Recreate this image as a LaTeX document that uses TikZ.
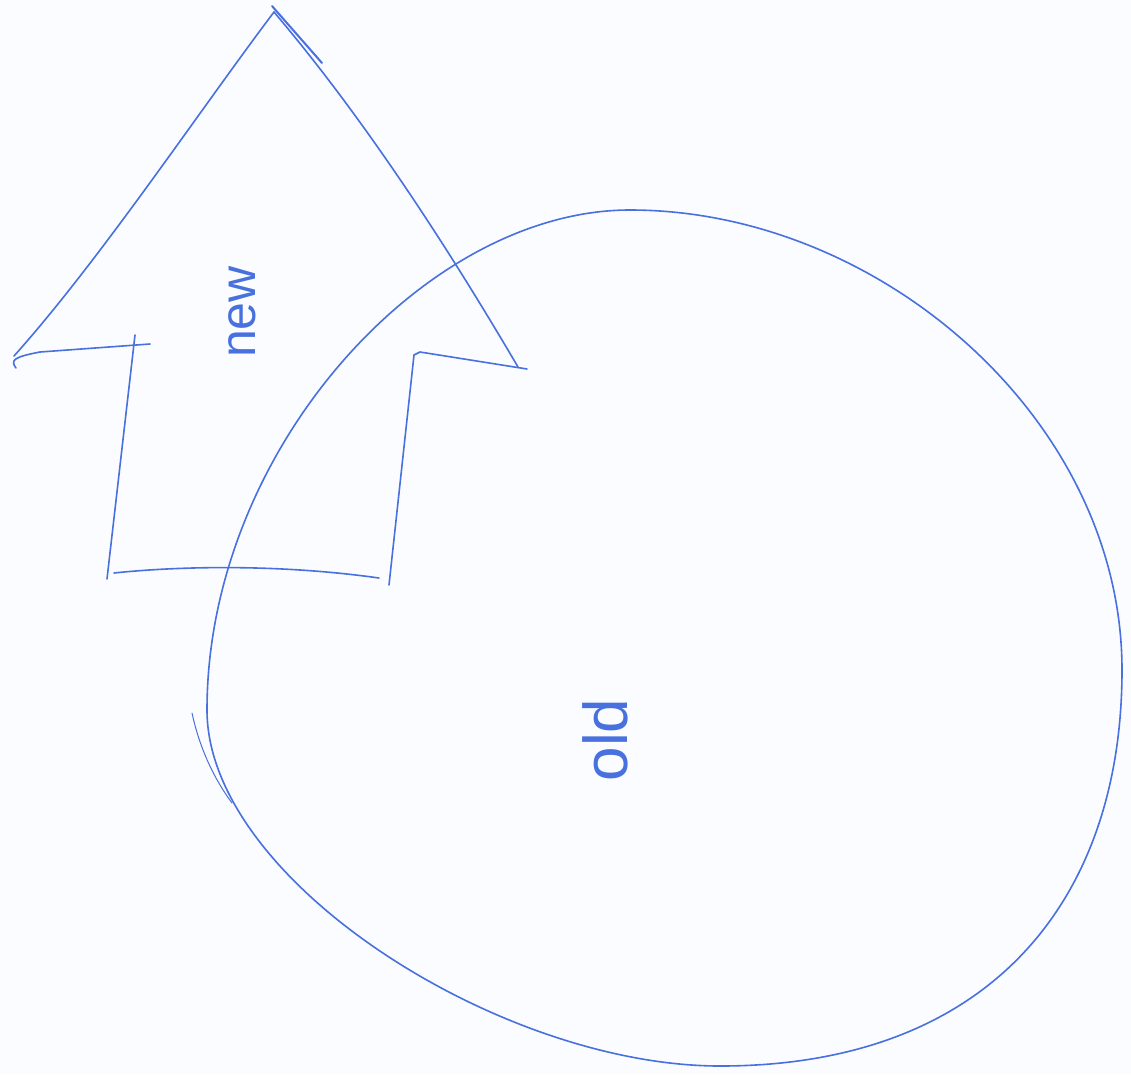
\documentclass[tikz,border=0pt]{standalone}
\usepackage{fontspec}
\setmainfont{Liberation Sans}
\definecolor{pen}{RGB}{72,112,222}
\definecolor{paper}{RGB}{250,252,255}
\tikzset{
  penline/.style={draw=pen, line width=1.6pt, line cap=round, line join=round},
  hand/.style={text=pen, rotate=90, inner sep=0pt}
}
\begin{document}
\begin{tikzpicture}[x=1pt,y=-1pt]
\fill[paper] (0,0) rectangle (1131,1074);
\useasboundingbox (0,0) rectangle (1131,1074);
% old blob
\coordinate (ot) at (630,210);
\coordinate (or) at (1122,670);
\coordinate (ob) at (720,1066);
\coordinate (ol) at (207,710);
\draw[penline] (ot) .. controls (880,210) and (1122,420) .. (or)
  .. controls (1122,900) and (990,1066) .. (ob)
  .. controls (500,1066) and (207,880) .. (ol)
  .. controls (207,450) and (425,210) .. (ot) -- cycle;
\draw[penline, line width=1pt] (192,713) .. controls (200,750) and (215,780) .. (232,803);
% new arrow
\coordinate (tip) at (274,12);
\coordinate (hl) at (14,356);
\coordinate (hr) at (518,367);
\coordinate (sl) at (135,335);
\coordinate (sr) at (414,355);
\coordinate (bl) at (107,579);
\coordinate (br) at (389,585);
\draw[penline] (hl) .. controls (100,260) and (200,110) .. (tip);
\draw[penline, line width=2pt] (272,6) -- (322,63);
\draw[penline] (tip) .. controls (340,90) and (420,200) .. (hr);
\draw[penline] (16,368) .. controls (10,360) and (14,357) .. (40,352) -- (150,344);
\draw[penline] (sr) -- (420,352) -- (527,369);
\draw[penline] (sl) -- (bl);
\draw[penline] (sr) -- (br);
\draw[penline] (114,573) .. controls (180,566) and (280,564) .. (379,578);
% labels
\node[hand, font=\fontsize{50}{50}\selectfont] (new) at (242,312) {new};
\node[hand, font=\fontsize{62}{62}\selectfont] (old) at (605,740) {old};
\end{tikzpicture}
\end{document}
